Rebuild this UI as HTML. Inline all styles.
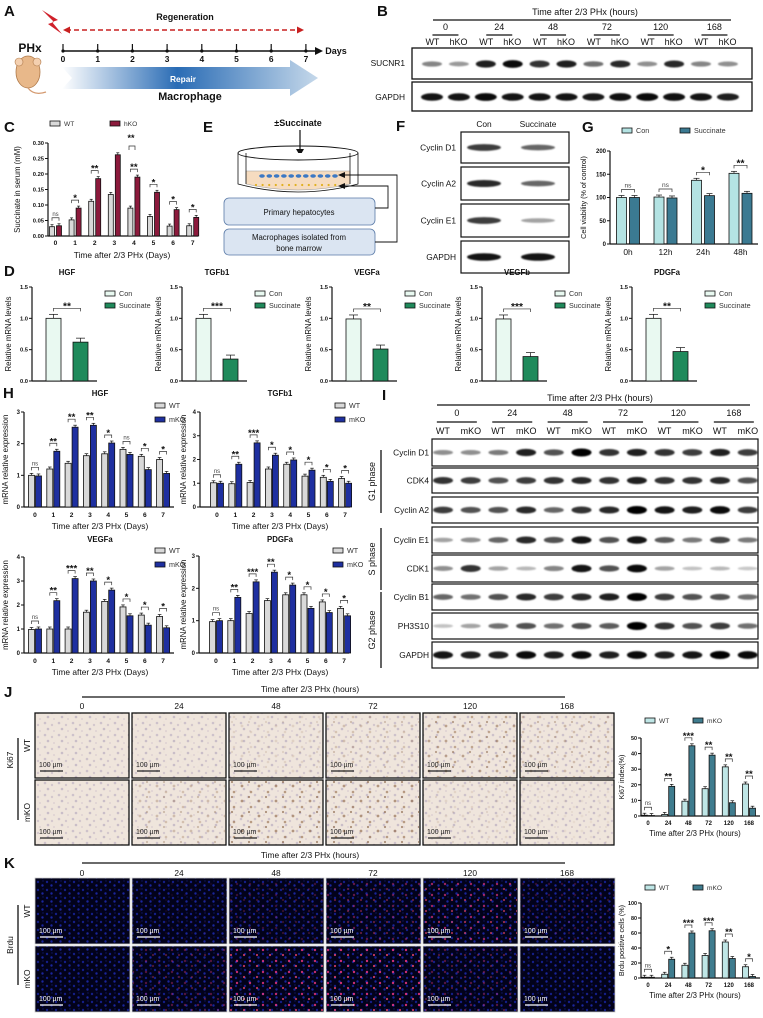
<!DOCTYPE html>
<html><head><meta charset="utf-8">
<style>
html,body{margin:0;padding:0;background:#fff;}
svg{display:block;font-family:"Liberation Sans",Arial,sans-serif;}
</style></head>
<body>
<svg id="fig" width="763" height="1018" viewBox="0 0 763 1018" xmlns="http://www.w3.org/2000/svg">
<defs>
<filter id="blur" x="-50%" y="-100%" width="200%" height="300%"><feGaussianBlur stdDeviation="0.8"/></filter>
<linearGradient id="repairGrad" x1="0" x2="1" y1="0" y2="0">
<stop offset="0" stop-color="#ffffff"/><stop offset="0.45" stop-color="#2a6cb5"/><stop offset="1" stop-color="#c5d8ea"/></linearGradient>
<pattern id="ihc" width="14" height="12" patternUnits="userSpaceOnUse">
<rect width="14" height="12" fill="#efe5dc"/>
<circle cx="3" cy="3" r="1.3" fill="#cdc2cb"/><circle cx="10" cy="5" r="1.2" fill="#d4c8cd"/>
<circle cx="6" cy="9" r="1.3" fill="#c9bec8"/><circle cx="12" cy="11" r="0.9" fill="#d9ccd0"/></pattern>
<pattern id="ihcPos" width="17" height="15" patternUnits="userSpaceOnUse">
<circle cx="4" cy="6" r="1.4" fill="#8a6040"/><circle cx="13" cy="12" r="1.3" fill="#946a46"/><circle cx="11" cy="2" r="1.1" fill="#7e5636"/></pattern>
<pattern id="fluo" width="9" height="8" patternUnits="userSpaceOnUse">
<rect width="9" height="8" fill="#02021a"/>
<circle cx="2" cy="2" r="1.2" fill="#141e88"/><circle cx="6.5" cy="5.5" r="1.2" fill="#1a259c"/><circle cx="7" cy="1" r="0.7" fill="#0e1560"/></pattern>
<pattern id="fluoRed" width="13" height="11" patternUnits="userSpaceOnUse">
<circle cx="3" cy="4" r="1.2" fill="#ff3a8a"/><circle cx="10" cy="9" r="1.1" fill="#ff4a70"/></pattern>
</defs>
</svg>
<script>
const NS='http://www.w3.org/2000/svg';
const svg=document.getElementById('fig');

/* ===== DATA ===== */
const daysCats=['0','1','2','3','4','5','6','7'];
const cWT=[0.030,0.052,0.112,0.134,0.090,0.063,0.032,0.033];
const cHKO=[0.033,0.090,0.185,0.262,0.190,0.141,0.085,0.060];
const cSig=['ns','*','**','','**','*','*','*'];
const cTicks=[0,0.05,0.10,0.15,0.20,0.25,0.30];

const dGenes=['HGF','TGFb1','VEGFa','VEGFb','PDGFa'];
const dCon=[1.0,1.0,0.99,0.99,1.0];
const dSucc=[0.62,0.35,0.51,0.39,0.47];
const dSig=['**','***','**','***','**'];
const dTicks=[0,0.5,1.0,1.5];

const gCats=['0h','12h','24h','48h'];
const gCon=[100,101,137,152];
const gSucc=[100,99,104,109];
const gSig=['ns','ns','*','**'];
const gTicks=[0,50,100,150,200];

const hHgfWT=[1.0,1.2,1.38,1.62,1.68,1.82,1.6,1.5];
const hHgfKO=[0.98,1.76,2.52,2.58,2.02,1.66,1.18,1.06];
const hHgfSig=['ns','**','**','**','*','ns','*','*'];
const hTgfWT=[1.02,0.98,1.03,1.6,1.8,1.3,1.25,1.2];
const hTgfKO=[1.0,1.8,2.7,2.18,1.98,1.55,1.08,1.0];
const hTgfSig=['ns','**','***','*','*','*','*','*'];
const hVegWT=[0.98,1.0,1.0,1.7,2.15,1.92,1.58,1.52];
const hVegKO=[1.0,2.18,3.1,3.0,2.62,1.55,1.16,1.05];
const hVegSig=['ns','**','***','**','*','*','*','*'];
const hPdgWT=[0.97,1.0,1.22,1.62,1.8,1.8,1.58,1.38];
const hPdgKO=[1.0,1.72,2.2,2.5,2.1,1.38,1.25,1.15];
const hPdgSig=['ns','**','***','**','*','*','*','*'];

const hourCats=['0','24','48','72','120','168'];
const jWT=[0.5,1,9.5,17.5,31.5,20.5];
const jKO=[0.3,19,45,39,8.5,5];
const jSig=['ns','**','***','**','**','**'];
const jTicks=[0,10,20,30,40,50];
const kWT=[1,5,17,30,48,15];
const kKO=[1,25,60,63,26,2];
const kSig=['ns','*','***','***','**','*'];
const kTicks=[0,20,40,60,80,100];

const bSucnr1=[0.35,0.25,0.85,0.95,0.75,0.85,0.45,0.8,0.3,0.8,0.35,0.3];
const bGapdh=[0.9,0.9,0.95,0.9,0.9,0.9,0.88,0.92,0.95,0.92,0.9,0.85];
const iRowsNames=['Cyclin D1','CDK4','Cyclin A2','Cyclin E1','CDK1','Cyclin B1','PH3S10','GAPDH'];
const iD1=[0.3,0.3,0.4,0.85,0.6,1,0.75,0.85,0.75,0.7,0.85,0.7];
const iCdk4=[0.75,0.7,0.6,0.7,0.75,0.8,0.75,0.85,0.75,0.75,0.8,0.6];
const iA2=[0.7,0.6,0.6,0.8,0.5,0.75,0.8,1,0.9,0.85,0.95,0.7];
const iE1=[0.2,0.3,0.5,0.8,0.6,0.9,0.6,0.9,0.55,0.4,0.65,0.4];
const iCdk1=[0.3,0.75,0.2,0.1,0.35,0.9,0.6,0.95,0.2,0.05,0.1,0.02];
const iB1=[0.5,0.45,0.6,0.8,0.7,0.8,0.85,1,0.7,0.6,0.6,0.45];
const iPh3=[0.05,0.2,0.45,0.6,0.45,0.6,0.55,1,0.75,0.6,0.7,0.45];
const iGapdh=[0.9,0.85,0.85,0.95,0.85,0.95,0.85,0.95,0.85,0.9,1,0.95];
const fNames=['Cyclin D1','Cyclin A2','Cyclin E1','GAPDH'];
const fBands=[[0.7,0.5],[0.8,0.5],[0.7,0.2],[0.9,0.9]];

/* ===== helpers ===== */
const FS=1.2;
function mk(tag,attrs,name,parent){
  const el=document.createElementNS(NS,tag);
  for(const k in attrs) el.setAttribute(k,attrs[k]);
  
  
  (parent||svg).appendChild(el);
  return el;
}
function T(x,y,s,size,name,o){
  o=o||{};
  const a={x:x,y:y,'font-size':o.noScale?size:size*FS,fill:o.fill||'#111','text-anchor':o.anchor||'middle'};
  if(o.bold) a['font-weight']='bold';
  if(o.rot!==undefined) a.transform='rotate('+o.rot+' '+x+' '+y+')';
  const el=mk('text',a,name,o.parent);
  el.textContent=s;
  return el;
}
function L(x1,y1,x2,y2,name,o){
  o=o||{};
  return mk('line',{x1:x1,y1:y1,x2:x2,y2:y2,stroke:o.stroke||'#111','stroke-width':o.w||1,'stroke-dasharray':o.dash||'none'},name,o.parent);
}
function R(x,y,w,h,name,o){
  o=o||{};
  return mk('rect',{x:x,y:y,width:w,height:h,fill:o.fill||'none',stroke:o.stroke||'none','stroke-width':o.w||1,rx:o.rx||0},name,o.parent);
}

/* grouped bar chart */
function barChart(c){
  const g=mk('g',{},c.name);
  const ys=v=>c.y0-v/c.ymax*c.h;
  const xs=i=>c.cx0+i*c.step;
  L(c.x0,c.y0,c.x0,c.y0-c.h,'y-axis',{parent:g,w:1.2});
  L(c.x0,c.y0,c.xEnd,c.y0,'x-axis',{parent:g,w:1.2});
  c.ticks.forEach(t=>{
    L(c.x0-3,ys(t),c.x0,ys(t),'y-tick',{parent:g});
    T(c.x0-4,ys(t)+2,c.fmt(t),c.tfs||5.5,'y-tick-label',{anchor:'end',bold:true,parent:g});
  });
  c.cats.forEach((lab,i)=>{
    T(xs(i),c.y0+(c.catDy||9),lab,c.cfs||6,'x-tick-label',{bold:c.catBold!==false,parent:g});
    const vals=[c.s1[i],c.s2[i]];
    const bx=[xs(i)-c.bw-c.gap/2, xs(i)+c.gap/2];
    vals.forEach((v,s)=>{
      R(bx[s],ys(v),c.bw,c.y0-ys(v),'bar-'+c.short+'-'+lab+'-'+(s?c.n2:c.n1),{parent:g,fill:c.col[s],stroke:'#111',w:0.8});
      const cx=bx[s]+c.bw/2, e=c.errPx||2;
      L(cx,ys(v)-e,cx,ys(v),'error-bar',{parent:g,w:0.7});
      L(cx-c.bw*0.3,ys(v)-e,cx+c.bw*0.3,ys(v)-e,'error-cap',{parent:g,w:0.7});
    });
    if(c.sig && c.sig[i]){
      const top=Math.min(ys(vals[0]),ys(vals[1]))-(c.errPx||2)-3;
      const c1=bx[0]+c.bw/2,c2=bx[1]+c.bw/2, by=top-3;
      mk('polyline',{points:c1+','+(by+3)+' '+c1+','+by+' '+c2+','+by+' '+c2+','+(by+3),fill:'none',stroke:'#333','stroke-width':0.7},'sig-bracket',g);
      const ns=c.sig[i]==='ns';
      T((c1+c2)/2,ns?by-2:by+1,c.sig[i],ns?(c.sfs||6):(c.sfs||6)+3,'sig-label',{parent:g,bold:!ns,fill:ns?'#444':'#111'});
    }
  });
  if(c.ylabel) T(c.ylx,c.y0-c.h/2,c.ylabel,c.yfs||7,'y-axis-title',{rot:-90,parent:g});
  if(c.xlabel) T(c.xlx,c.xly,c.xlabel,c.xfs||8,'x-axis-title',{parent:g});
  if(c.title) T(c.tx,c.ty,c.title,c.tfs2||7.5,'chart-title',{bold:true,parent:g});
  if(c.leg){
    c.leg.forEach((l,k)=>{
      R(l[0],l[1]-5,10,5,'legend-swatch',{parent:g,fill:c.col[k],stroke:'#111',w:0.8});
      T(l[0]+14,l[1],k?c.n2:c.n1,c.lfs||6.5,'legend-label',{anchor:'start',parent:g,fill:'#333'});
    });
  }
  return g;
}
function band(x,y,v,w,name,parent){
  return mk('ellipse',{cx:x,cy:y,rx:w,ry:1.8+2.2*v,fill:'#000','fill-opacity':Math.min(1,0.2+0.8*v),filter:'url(#blur)'},name,parent);
}

/* ===== Panel labels ===== */
[['A',4,16],['B',377,16],['C',4,132],['E',203,132],['F',396,131],['G',582,132],['D',4,276],['H',3,398],['I',382,400],['J',4,697],['K',4,868]].forEach(p=>{
  T(p[1],p[2],p[0],15,'panel-label-'+p[0].toLowerCase(),{anchor:'start',bold:true,noScale:true});
});

/* ===== Panel A ===== */
(function(){
  const g=mk('g',{},'panel-a-timeline');
  T(30,52,'PHx',10,'phx-label',{bold:true,parent:g});
  mk('ellipse',{cx:28,cy:72,rx:12,ry:16,fill:'#e8b88a',stroke:'#b07a4a','stroke-width':0.8},'mouse-body',g);
  mk('circle',{cx:19,cy:62,r:4,fill:'#f4d0b0',stroke:'#b07a4a','stroke-width':0.6},'mouse-ear',g);
  mk('circle',{cx:37,cy:62,r:4,fill:'#f4d0b0',stroke:'#b07a4a','stroke-width':0.6},'mouse-ear',g);
  mk('path',{d:'M28 88 Q34 96 46 92',fill:'none',stroke:'#d49a70','stroke-width':1.2},'mouse-tail',g);
  mk('polygon',{points:'42,10 58,20 52,22 62,34 48,24 54,22',fill:'#d0202a'},'lightning-icon',g);
  L(66,30,298,30,'regeneration-arrow',{parent:g,stroke:'#c82020',w:1.6,dash:'5,3'});
  mk('polygon',{points:'63,30 70,26.5 70,33.5',fill:'#c82020'},'regeneration-arrowhead-left',g);
  mk('polygon',{points:'304,30 297,26.5 297,33.5',fill:'#c82020'},'regeneration-arrowhead-right',g);
  T(185,20,'Regeneration',7.5,'regeneration-label',{bold:true,parent:g});
  L(63,51,318,51,'days-axis',{parent:g,w:1.6});
  mk('polygon',{points:'323,51 315,47 315,55',fill:'#111'},'days-arrowhead',g);
  T(336,54,'Days',7.5,'days-label',{bold:true,parent:g});
  daysCats.forEach((d,i)=>{
    const x=63+i*34.7;
    L(x,44,x,51,'day-tick',{parent:g,w:1.2});
    mk('circle',{cx:x,cy:51,r:1.6,fill:'#111'},'day-dot',g);
    T(x,62,d,7,'day-label',{bold:true,parent:g});
  });
  mk('polygon',{points:'62,67 290,67 290,60 318,78 290,96 290,89 62,89 72,78',fill:'url(#repairGrad)'},'repair-arrow',g);
  T(183,82,'Repair',7,'repair-label',{bold:true,fill:'#fff',parent:g});
  T(190,100,'Macrophage',9,'macrophage-label',{bold:true,parent:g});
})();

/* ===== Panel B ===== */
(function(){
  const g=mk('g',{},'panel-b-western-blot');
  T(585,15,'Time after 2/3 PHx (hours)',7.5,'blot-b-header',{parent:g});
  L(433,20,731,20,'blot-b-header-line',{parent:g,w:1.2});
  hourCats.forEach((h,k)=>{
    const cx=432+26.9*(2*k+0.5);
    T(cx,30,h,7.5,'blot-b-time-label',{parent:g});
    L(cx-13,35,cx+13,35,'blot-b-group-line',{parent:g,w:1.2});
    T(cx-13,45,'WT',7.5,'lane-label-wt',{parent:g});
    T(cx+13,45,'hKO',7.5,'lane-label-hko',{parent:g});
  });
  R(412,48,340,31,'blot-sucnr1-box',{parent:g,stroke:'#111',w:1.3});
  R(412,82,340,29,'blot-gapdh-box',{parent:g,stroke:'#111',w:1.3});
  T(405,66,'SUCNR1',7,'blot-row-label',{anchor:'end',parent:g});
  T(405,100,'GAPDH',7,'blot-row-label',{anchor:'end',parent:g});
  bSucnr1.forEach((v,i)=>band(432+26.9*i,64,v,10,'band-sucnr1',g));
  bGapdh.forEach((v,i)=>band(432+26.9*i,97,v,11,'band-gapdh',g));
})();

/* ===== Panel C ===== */
barChart({name:'panel-c-chart',short:'c',x0:48,y0:236,h:93,ymax:0.30,xEnd:198,ticks:cTicks,fmt:t=>t.toFixed(2),
  cats:daysCats,cx0:55.5,step:19.6,bw:5,gap:2,s1:cWT,s2:cHKO,n1:'WT',n2:'hKO',col:['#d9d9d9','#8c1a3c'],sig:cSig,
  ylabel:'Succinate in serum (mM)',ylx:20,yfs:6.5,xlabel:'Time after 2/3 PHx (Days)',xlx:122,xly:258,xfs:7,
  leg:[[50,126],[110,126]],lfs:5.5,tfs:4.8,sfs:5,cfs:5.5});
T(131,141,'**',7.5,'sig-label-extra',{bold:true});
mk('polyline',{points:'129,150 129,146 135,146 135,150',fill:'none',stroke:'#333','stroke-width':0.7},'sig-bracket-extra');

/* ===== Panel E ===== */
(function(){
  const g=mk('g',{},'panel-e-coculture-diagram');
  T(298,126,'±Succinate',7.5,'succinate-label',{bold:true,parent:g});
  L(300,130,300,150,'succinate-arrow',{parent:g,w:1.2});
  mk('polygon',{points:'300,156 296,149 304,149',fill:'#111'},'succinate-arrowhead',g);
  mk('path',{d:'M238 153 L238 184 Q298 200 358 184 L358 153',fill:'#fff',stroke:'#111','stroke-width':0.8},'dish-wall',g);
  mk('path',{d:'M246 171 L246 184 Q298 196 350 184 L350 171 Z',fill:'#f6dcc0',stroke:'#999','stroke-width':0.5},'dish-medium',g);
  mk('ellipse',{cx:298,cy:153,rx:60,ry:7,fill:'none',stroke:'#111','stroke-width':0.9},'dish-rim',g);
  L(246,153,246,184,'insert-wall',{parent:g,w:0.8}); L(350,153,350,184,'insert-wall',{parent:g,w:0.8});
  for(let i=0;i<11;i++){mk('ellipse',{cx:262+i*7.3,cy:176,rx:2.8,ry:1.7,fill:'#3b78c4'},'hepatocyte-cell',g);}
  for(let i=0;i<13;i++){mk('circle',{cx:256+i*6.6,cy:185,r:1.1,fill:'#e0b020'},'macrophage-cell',g);}
  R(224,198,151,27,'hepatocytes-box',{parent:g,fill:'#dbe5f2',stroke:'#5a7aa8',w:0.8,rx:5});
  T(299,215,'Primary hepatocytes',6.5,'hepatocytes-label',{parent:g});
  R(224,229,151,26,'macrophages-box',{parent:g,fill:'#dbe5f2',stroke:'#5a7aa8',w:0.8,rx:5});
  T(299,240,'Macrophages isolated from',6.5,'macrophages-label',{parent:g});
  T(299,251,'bone marrow',6.5,'macrophages-label-2',{parent:g});
  mk('polyline',{points:'375,208 388,208 388,186 344,186',fill:'none',stroke:'#111','stroke-width':0.9},'connector-line',g);
  mk('polyline',{points:'375,242 397,242 397,175 344,175',fill:'none',stroke:'#111','stroke-width':0.9},'connector-line',g);
  mk('polygon',{points:'338,186 345,183 345,189',fill:'#111'},'connector-arrowhead',g);
  mk('polygon',{points:'338,175 345,172 345,178',fill:'#111'},'connector-arrowhead',g);
})();

/* ===== Panel F ===== */
(function(){
  const g=mk('g',{},'panel-f-western-blot');
  T(484,127,'Con',7,'lane-label-con',{parent:g});
  T(538,127,'Succinate',7,'lane-label-succinate',{parent:g});
  const rows=[[132,31],[167,33],[204,33],[241,32]];
  fNames.forEach((n,k)=>{
    R(461,rows[k][0],108,rows[k][1],'blot-f-box',{parent:g,stroke:'#111',w:1.2});
    T(456,rows[k][0]+rows[k][1]/2+3,n,7,'blot-f-row-label',{anchor:'end',parent:g});
    fBands[k].forEach((v,j)=>band(j?538:484,rows[k][0]+rows[k][1]/2,v,17,'band-f',g));
  });
})();

/* ===== Panel G ===== */
barChart({name:'panel-g-chart',short:'g',x0:610,y0:244,h:93,ymax:200,xEnd:758,ticks:gTicks,fmt:t=>String(t),
  cats:gCats,cx0:628,step:37.5,bw:10,gap:3,s1:gCon,s2:gSucc,n1:'Con',n2:'Succinate',col:['#b4e3e3','#3b7a92'],sig:gSig,
  ylabel:'Cell viability (% of control)',ylx:586,yfs:6,catDy:11,cfs:7,catBold:false,
  leg:[[622,133],[680,133]],lfs:6,tfs:5,sfs:5.5,errPx:2});

/* ===== Panel D ===== */
dGenes.forEach((gName,k)=>{
  const x0=32+150*k;
  barChart({name:'panel-d-chart-'+gName.toLowerCase(),short:'d-'+gName,x0:x0,y0:381,h:94,ymax:1.5,xEnd:x0+65,ticks:dTicks,fmt:t=>t.toFixed(1),
    cats:[''],cx0:x0+35,step:0,bw:15,gap:12,s1:[dCon[k]],s2:[dSucc[k]],n1:'Con',n2:'Succinate',col:['#e9f9f1','#1f8a5b'],sig:[dSig[k]],
    ylabel:'Relative mRNA levels',ylx:x0-21,yfs:6.5,title:gName,tx:x0+35,ty:275,tfs2:6.5,
    leg:[[x0+73,296],[x0+73,308]],lfs:6,tfs:4.8,sfs:5.5,errPx:4});
});

/* ===== Panel H ===== */
const hCfg=[
 ['hgf','HGF',24,507,95,3,[0,1,2,3],35,hHgfWT,hHgfKO,hHgfSig,100,396,155,408,8,100,529],
 ['tgfb1','TGFb1',200,507,95,4,[0,1,2,3,4],217,hTgfWT,hTgfKO,hTgfSig,280,396,335,408,186,280,529],
 ['vegfa','VEGFa',24,653,96,4,[0,1,2,3,4],35,hVegWT,hVegKO,hVegSig,100,542,155,553,8,100,675],
 ['pdgfa','PDGFa',199,653,97,3,[0,1,2,3],216,hPdgWT,hPdgKO,hPdgSig,280,542,333,553,186,280,675]];
hCfg.forEach(c=>{
  barChart({name:'panel-h-chart-'+c[0],short:'h-'+c[0],x0:c[2],y0:c[3],h:c[4],ymax:c[5],xEnd:c[2]+150,ticks:c[6],fmt:t=>String(t),
    cats:daysCats,cx0:c[7],step:18.3,bw:6,gap:1,s1:c[8],s2:c[9],n1:'WT',n2:'mKO',col:['#d9d9d9','#1e2fa0'],sig:c[10],
    title:c[1],tx:c[11],ty:c[12],tfs2:6.5,leg:[[c[13],c[14]],[c[13],c[14]+14]],lfs:6,catDy:10,cfs:5.5,
    ylabel:'mRNA relative expression',ylx:c[15],yfs:6.5,xlabel:'Time after 2/3 PHx (Days)',xlx:c[16],xly:c[17],xfs:7,tfs:5,sfs:5});
});

/* ===== Panel I ===== */
(function(){
  const g=mk('g',{},'panel-i-western-blot');
  T(600,401,'Time after 2/3 PHx (hours)',7.5,'blot-i-header',{parent:g});
  L(437,405,750,405,'blot-i-header-line',{parent:g,w:1.2});
  hourCats.forEach((h,k)=>{
    const cx=443+27.7*(2*k+0.5);
    T(cx,416,h,7.5,'blot-i-time-label',{parent:g});
    L(cx-20,422,cx+20,422,'blot-i-group-line',{parent:g,w:1.2});
    T(cx-14,434,'WT',7.5,'lane-label-wt',{parent:g});
    T(cx+14,434,'mKO',7.5,'lane-label-mko',{parent:g});
  });
  const rows=[[439,27],[468,25],[497,26],[527,26],[555,27],[584,26],[613,26],[642,26]];
  const data=[iD1,iCdk4,iA2,iE1,iCdk1,iB1,iPh3,iGapdh];
  iRowsNames.forEach((n,k)=>{
    R(432,rows[k][0],326,rows[k][1],'blot-i-box',{parent:g,stroke:'#111',w:1.2});
    T(429,rows[k][0]+rows[k][1]/2+3,n,7,'blot-i-row-label',{anchor:'end',parent:g});
    data[k].forEach((v,i)=>band(443+27.7*i,rows[k][0]+rows[k][1]/2,v,10,'band-i',g));
  });
  [['G1 phase',450,513],['S phase',528,590],['G2 phase',592,668]].forEach(p=>{
    L(381,p[1],381,p[2],'phase-bracket',{parent:g,w:1.3});
    T(375,(p[1]+p[2])/2,p[0],7.5,'phase-label',{rot:-90,parent:g});
  });
})();

/* ===== Panels J & K images ===== */
function imagePanel(kind,headerY,numY,rowY,rowH,side,sideY,lineY1,lineY2){
  const g=mk('g',{},'panel-'+kind+'-images');
  T(310,headerY,'Time after 2/3 PHx (hours)',7,'image-header',{parent:g});
  L(82,headerY+5,565,headerY+5,'image-header-line',{parent:g,w:1.2});
  T(13,sideY,side,7,'image-stain-label',{rot:-90,parent:g});
  L(18,lineY1,18,lineY2,'image-stain-line',{parent:g,w:1.3});
  ['WT','mKO'].forEach((r,ri)=>T(30,rowY[ri]+rowH/2,r,7,'image-row-label-'+r.toLowerCase(),{rot:-90,parent:g}));
  hourCats.forEach((h,k)=>{
    const x=35+97*k;
    T(x+47,numY,h,7,'image-col-label',{parent:g});
    rowY.forEach((y,ri)=>{
      if(kind==='j'){
        R(x,y,94,rowH,'ihc-image',{parent:g,fill:'url(#ihc)',stroke:'#111',w:1.3});
        const op=(ri?jKO[k]:jWT[k])/50;
        mk('rect',{x:x+1,y:y+1,width:92,height:rowH-2,fill:'url(#ihcPos)','fill-opacity':Math.min(0.6,op*0.8)},'ihc-positive-overlay',g);
      } else {
        R(x,y,95,rowH,'brdu-image',{parent:g,fill:'url(#fluo)',stroke:'#ccc',w:0.8});
        const op=(ri?kKO[k]:kWT[k])/80;
        mk('rect',{x:x+1,y:y+1,width:93,height:rowH-2,fill:'url(#fluoRed)','fill-opacity':Math.min(0.8,op)},'brdu-positive-overlay',g);
      }
      const col=kind==='j'?'#222':'#fff';
      T(x+4,y+rowH-11,'100 µm',5.8,'scale-bar-label',{anchor:'start',fill:col,parent:g});
      L(x+5,y+rowH-7,x+28,y+rowH-7,'scale-bar',{parent:g,stroke:col,w:1.3});
    });
  });
}
imagePanel('j',692,709,[713,780],65,'Ki67',760,738,820);
imagePanel('k',858,876,[878,946],66,'Brdu',945,905,985);

/* ===== J & K charts ===== */
barChart({name:'panel-j-chart',short:'j',x0:641,y0:816,h:78,ymax:50,xEnd:760,ticks:jTicks,fmt:t=>String(t),
  cats:hourCats,cx0:648,step:20.2,bw:6,gap:1,s1:jWT,s2:jKO,n1:'WT',n2:'mKO',col:['#bfe6e6','#3f7c8e'],sig:jSig,
  ylabel:'Ki67 index(%)',ylx:624,yfs:6,xlabel:'Time after 2/3 PHx (hours)',xlx:695,xly:836,xfs:6.5,
  leg:[[645,723],[693,723]],lfs:5.5,tfs:4.5,cfs:5,sfs:5});
barChart({name:'panel-k-chart',short:'k',x0:641,y0:978,h:75,ymax:100,xEnd:760,ticks:kTicks,fmt:t=>String(t),
  cats:hourCats,cx0:648,step:20.2,bw:6,gap:1,s1:kWT,s2:kKO,n1:'WT',n2:'mKO',col:['#bfe6e6','#3f7c8e'],sig:kSig,
  ylabel:'Brdu positive cells (%)',ylx:624,yfs:6,xlabel:'Time after 2/3 PHx (hours)',xlx:695,xly:998,xfs:6.5,
  leg:[[645,890],[693,890]],lfs:5.5,tfs:4.5,cfs:5,sfs:5});
</script>
</body></html>
